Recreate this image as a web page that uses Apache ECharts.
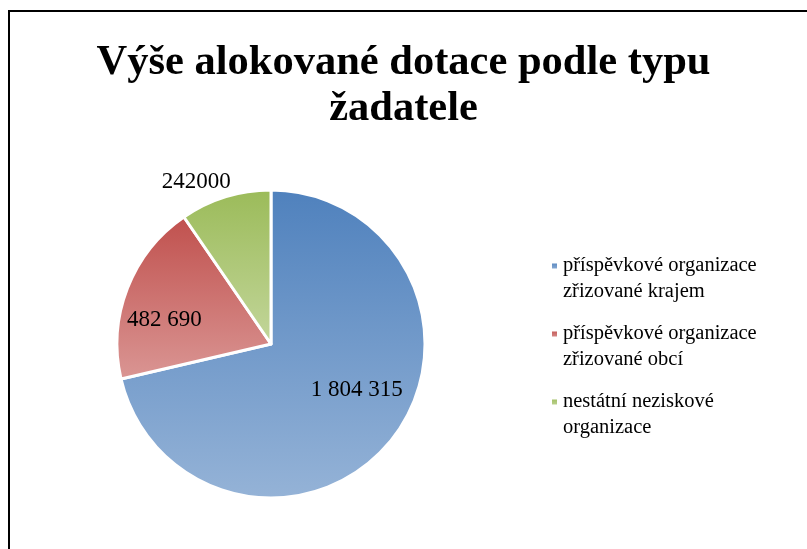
<!DOCTYPE html>
<html>
<head>
<meta charset="utf-8">
<script src="https://cdn.jsdelivr.net/npm/echarts@6/dist/echarts.min.js"></script>
<style>
    html, body { margin: 0; padding: 0; background: #fff; }
    #chart { width: 807px; height: 549px; }
</style>
</head>
<body>
<div id="chart"></div>
<script>
// data
var categories = [
    'příspěvkové organizace zřizované krajem',
    'příspěvkové organizace zřizované obcí',
    'nestátní neziskové organizace'
];
// leading empty line keeps the marker level with the first text line
var legendLabels = [
    '\npříspěvkové organizace\nzřizované krajem',
    '\npříspěvkové organizace\nzřizované obcí',
    '\nnestátní neziskové\norganizace'
];
var values = [1804315, 482690, 242000];
var valueLabels = ['1 804 315', '482 690', '242000'];

// gradient colours per slice: top / bottom
var topColors = ['#4F81BD', '#C0504D', '#9BBB59'];
var bottomColors = ['#95B3D7', '#DA9694', '#C3D69B'];
// nudges for the data labels (Excel put them off the middle radius)
var labelShift = [[23, -4], [-32, 5], [-51, -86]];

function grad(i) {
    return new echarts.graphic.LinearGradient(0, 0, 0, 1, [
        { offset: 0, color: topColors[i] },
        { offset: 1, color: bottomColors[i] }
    ]);
}

var chart = echarts.init(document.getElementById('chart'));

var pieData = [];
for (var i = 0; i < categories.length; i++) {
    pieData.push({
        name: categories[i],
        value: values[i],
        itemStyle: { color: grad(i) }
    });
}

var option = {
    animation: false,
    title: {
        text: 'Výše alokované dotace podle typu\nžadatele',
        left: 'center',
        top: 35,
        textStyle: {
            fontFamily: '"Liberation Serif", "DejaVu Serif", serif',
            fontWeight: 'bold',
            fontSize: 42.5,
            lineHeight: 46,
            color: '#000'
        }
    },
    graphic: [{
        type: 'rect',
        shape: { x: 9, y: 11, width: 820, height: 600 },
        style: { fill: 'none', stroke: '#000', lineWidth: 2 },
        silent: true
    }],
    legend: {
        orient: 'vertical',
        left: 545,
        top: 222,
        itemWidth: 7,
        itemHeight: 7,
        itemGap: -10,
        icon: 'rect',
        selectedMode: false,
        formatter: function (name) {
            return legendLabels[categories.indexOf(name)];
        },
        textStyle: {
            fontFamily: '"Liberation Serif", "DejaVu Serif", serif',
            fontSize: 20.5,
            lineHeight: 26,
            color: '#000'
        },
        data: categories.map(function (c, i) {
            return { name: c, itemStyle: { color: grad(i) } };
        })
    },
    series: [{
        type: 'pie',
        center: [271, 344],
        radius: 154,
        startAngle: 90,
        clockwise: true,
        data: pieData,
        itemStyle: {
            borderColor: '#fff',
            borderWidth: 3
        },
        emphasis: { disabled: true },
        label: {
            show: true,
            position: 'inside',
            fontFamily: '"Liberation Serif", "DejaVu Serif", serif',
            fontSize: 23,
            color: '#000',
            formatter: function (p) {
                return valueLabels[p.dataIndex];
            }
        },
        labelLine: { show: false },
        labelLayout: function (p) {
            return { dx: labelShift[p.dataIndex][0], dy: labelShift[p.dataIndex][1] };
        }
    }]
};

chart.setOption(option);
</script>
</body>
</html>
